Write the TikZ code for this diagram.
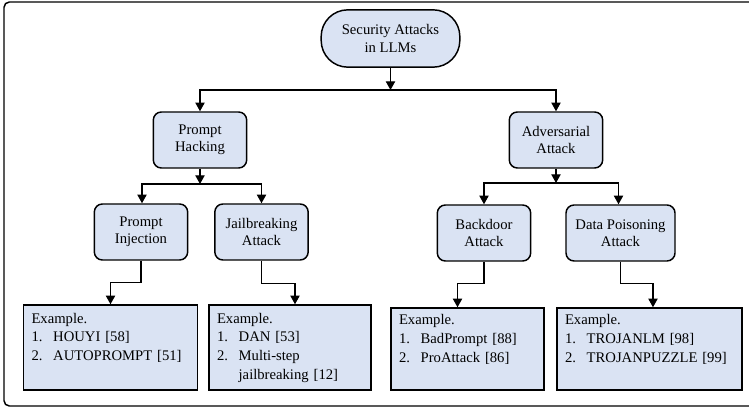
\documentclass[tikz,border=0pt]{standalone}
\usepackage{fontspec}
\setmainfont{Liberation Serif}
\usetikzlibrary{arrows.meta}
\definecolor{boxblue}{HTML}{DAE3F3}
\tikzset{
  topic/.style={draw, fill=boxblue, line width=1.1pt, rounded corners=6pt, align=center,
    minimum width=70pt, minimum height=42pt, inner sep=2pt,
    font=\fontsize{11}{13}\selectfont},
  exbox/.style={draw, fill=boxblue, line width=1.1pt, text width=#1, align=left,
    inner xsep=6pt, inner ysep=2pt, minimum height=63.75pt, font=\fontsize{11}{14}\selectfont},
  link/.style={line width=0.8pt, -{Triangle[width=7pt,length=6.5pt]}}
}
\newcommand{\exlist}[3]{\begin{tabular}{@{}l@{\hspace{8pt}}l@{}}
  \multicolumn{2}{@{}l}{Example.}\\ 1. & #1\\ 2. & #2\\ #3 \end{tabular}}
\begin{document}
\begin{tikzpicture}[x=0.75pt, y=-0.75pt]
      \clip (0,0) rectangle (749,409);
      \draw[line width=1.1pt, rounded corners=4pt] (4,2) rectangle (770,406);
      \node[topic, rounded corners=20pt, minimum width=104pt, minimum height=43pt] (root) at (390.5,38.5) {Security Attacks\\in LLMs};
      \node[topic] (hack) at (200,140) {Prompt\\Hacking};
      \node[topic] (adv) at (556,140) {Adversarial\\Attack};
      \node[topic] (inj) at (141,232) {Prompt\\Injection};
      \node[topic] (jail) at (261.5,232) {Jailbreaking\\Attack};
      \node[topic] (back) at (484,233) {Backdoor\\Attack};
      \node[topic, minimum width=81.75pt] (pois) at (620.5,233) {Data Poisoning\\Attack};
      \node[exbox=118.5pt] (exinj) at (110.5,347.5) {\exlist{HOUYI [58]}{AUTOPROMPT [51]}{&\\}};
      \node[exbox=109.5pt] (exjail) at (290,347.5) {\exlist{DAN [53]}{Multi-step}{& jailbreaking [12]\\}};
      \node[exbox=102.75pt, minimum height=61.5pt] (exback) at (467.5,349) {\exlist{BadPrompt [88]}{ProAttack [86]}{&\\}};
      \node[exbox=126.75pt, minimum height=61.5pt] (expois) at (649.5,349) {\exlist{TROJANLM [98]}{TROJANPUZZLE [99]}{&\\}};
      \coordinate (s0) at (390.5,90);
      \coordinate (s1) at (200,184);
      \coordinate (s2) at (556,183);
      \draw[link] (root) -- (s0);
      \draw[link] (s0) -| (hack);
      \draw[link] (s0) -| (adv);
      \draw[link] (hack) -- (s1);
      \draw[link] (s1) -| ([xshift=0.75pt]inj.north);
      \draw[link] (s1) -| (jail);
      \draw[link] (adv) -- (s2);
      \draw[link] (s2) -| (back);
      \draw[link] (s2) -| ([xshift=-1.5pt]pois.north);
      \draw[link] (inj.south) -- ++(0,22) -| (exinj.north);
      \draw[link] (jail.south) -- ++(0,23) -| ([xshift=3.75pt]exjail.north);
      \draw[link] (back.south) -- ++(0,22) -| ([xshift=-7.5pt]exback.north);
      \draw[link] (pois.south) -- ++(0,22) -| ([xshift=2.6pt]expois.north);
\end{tikzpicture}
\end{document}
